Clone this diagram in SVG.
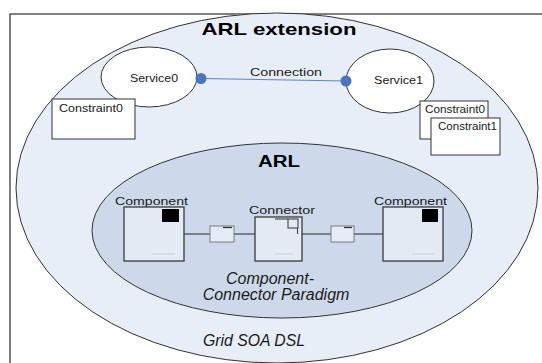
<svg xmlns="http://www.w3.org/2000/svg" width="542" height="363" viewBox="0 0 542 363">
<style>
.t{font-family:"Liberation Sans",Arial,sans-serif;fill:#1a1a1a}
.s{font-size:11px}
.b{font-weight:bold;fill:#000}
.i{font-style:italic;font-size:16px}
.ell{stroke:#333;stroke-width:1}
.box{fill:#fff;stroke:#333;stroke-width:1}
.comp{fill:#e3eaf4;stroke:#3a3a3a;stroke-width:1.3}
.port{fill:#e6ecf5;stroke:#7a7a7a;stroke-width:1}
.wire{stroke:#444;stroke-width:1.2;fill:none}
.dot{fill:#4677c6}
</style>
<rect x="0" y="0" width="542" height="363" fill="#fff"/>
<rect id="frame" x="10" y="14" width="540" height="360" fill="none" stroke="#555" stroke-width="1.5"/>
<g id="grid-soa-dsl">
<ellipse class="ell" cx="277" cy="188" rx="261" ry="175" fill="#e8eef7"/>
<text class="t b" x="279" y="35" font-size="17" text-anchor="middle" textLength="155" lengthAdjust="spacingAndGlyphs">ARL extension</text>
<text class="t i" x="254" y="346" text-anchor="middle" textLength="102" lengthAdjust="spacingAndGlyphs">Grid SOA DSL</text>
</g>
<g id="arl">
<ellipse class="ell" cx="282" cy="230.5" rx="190" ry="87.5" fill="#cdd9ea"/>
<text class="t b" x="279" y="167" font-size="16" text-anchor="middle" textLength="42" lengthAdjust="spacingAndGlyphs">ARL</text>
<text class="t i" x="270" y="284" text-anchor="middle">Component-</text>
<text class="t i" x="276" y="300" text-anchor="middle">Connector Paradigm</text>
</g>
<g id="connectors">
<line x1="201" y1="78.5" x2="346" y2="81" stroke="#5a86c8" stroke-width="1"/>
<line class="wire" x1="184" y1="234" x2="210" y2="234"/>
<line class="wire" x1="234" y1="234" x2="255" y2="234"/>
<line class="wire" x1="302" y1="234" x2="331" y2="234"/>
<line class="wire" x1="354" y1="234" x2="383" y2="234"/>
</g>
<g id="service0">
<ellipse class="ell" cx="149" cy="77" rx="48" ry="30" fill="#fff"/>
<text class="t s" x="130" y="82" textLength="48" lengthAdjust="spacingAndGlyphs">Service0</text>
</g>
<g id="service1">
<ellipse class="ell" cx="390" cy="81" rx="44" ry="32" fill="#fff"/>
<text class="t s" x="374" y="84" textLength="49" lengthAdjust="spacingAndGlyphs">Service1</text>
</g>
<g id="connection">
<circle class="dot" cx="201" cy="78.5" r="5.5"/>
<circle class="dot" cx="346" cy="81" r="5.5"/>
<text class="t s" x="250" y="76" textLength="72" lengthAdjust="spacingAndGlyphs">Connection</text>
</g>
<g id="constraint0-left">
<rect class="box" x="52" y="99" width="83" height="40"/>
<text class="t s" x="59" y="112" textLength="64" lengthAdjust="spacingAndGlyphs">Constraint0</text>
</g>
<g id="constraint0-right">
<rect class="box" x="420" y="101" width="68" height="38"/>
<text class="t s" x="425" y="113" textLength="60" lengthAdjust="spacingAndGlyphs">Constraint0</text>
</g>
<g id="constraint1-right">
<rect class="box" x="431" y="118" width="69" height="37"/>
<text class="t s" x="438" y="130" textLength="59" lengthAdjust="spacingAndGlyphs">Constraint1</text>
</g>
<g id="component-left">
<rect class="comp" x="124" y="207" width="60" height="54"/>
<rect x="162" y="209" width="17" height="13" fill="#000"/>
<line x1="152" y1="254" x2="175" y2="254" stroke="#c9cfd8" stroke-width="1"/>
<text class="t s" x="115" y="205" textLength="73" lengthAdjust="spacingAndGlyphs">Component</text>
</g>
<g id="port-left">
<rect class="port" x="210" y="226" width="24" height="16"/>
<line x1="223" y1="227.5" x2="232" y2="227.5" stroke="#333" stroke-width="1.3"/>
</g>
<g id="connector">
<rect class="comp" x="255" y="217" width="47" height="44"/>
<rect x="288" y="219" width="10" height="9" fill="none" stroke="#333" stroke-width="1"/>
<line x1="275" y1="219" x2="288" y2="219" stroke="#333" stroke-width="1"/>
<line x1="297.5" y1="228" x2="297.5" y2="234" stroke="#333" stroke-width="1"/>
<line x1="275" y1="254" x2="293" y2="254" stroke="#c9cfd8" stroke-width="1"/>
<text class="t s" x="249" y="214" textLength="66" lengthAdjust="spacingAndGlyphs">Connector</text>
</g>
<g id="port-right">
<rect class="port" x="331" y="226" width="23" height="16"/>
<line x1="344" y1="227.5" x2="352" y2="227.5" stroke="#333" stroke-width="1.3"/>
</g>
<g id="component-right">
<rect class="comp" x="383" y="207" width="60" height="54"/>
<rect x="422" y="209" width="16" height="13" fill="#000"/>
<line x1="412" y1="254" x2="435" y2="254" stroke="#c9cfd8" stroke-width="1"/>
<text class="t s" x="374" y="205" textLength="73" lengthAdjust="spacingAndGlyphs">Component</text>
</g>
</svg>
